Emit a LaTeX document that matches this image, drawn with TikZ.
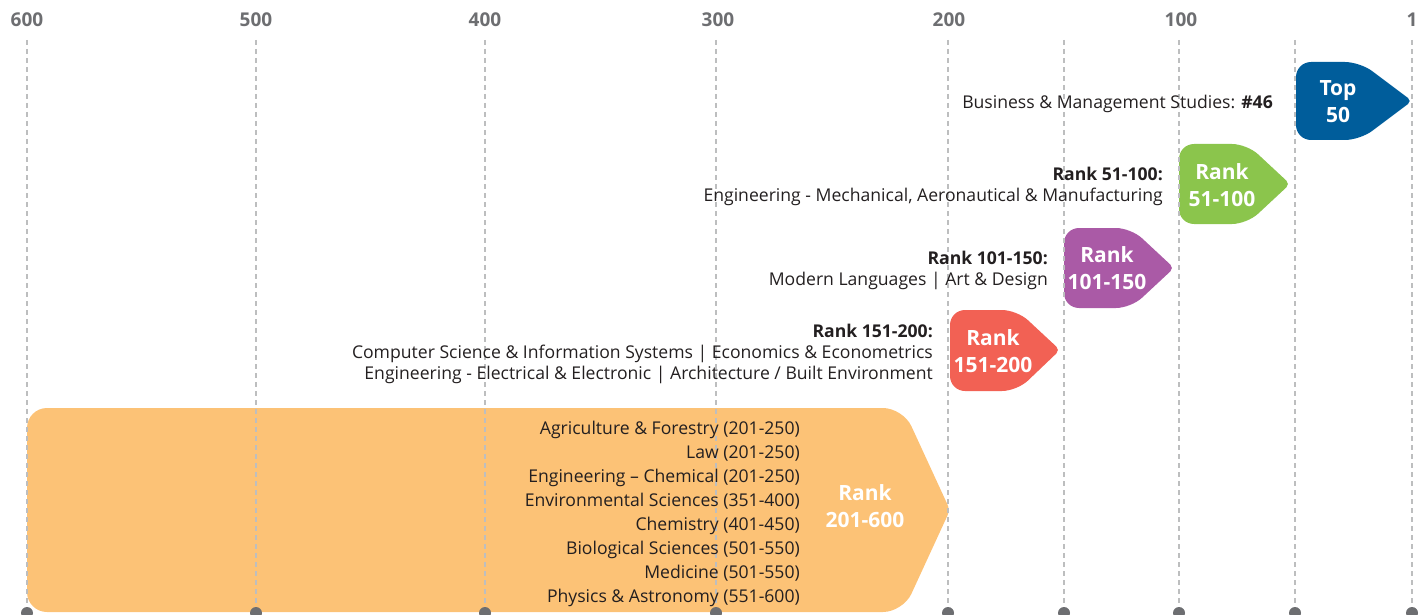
\documentclass[tikz,border=0pt]{standalone}
\usepackage{fontspec}
\setmainfont{Open Sans}
\usepackage{xcolor}
\usepackage{tikz}

\definecolor{topblue}{RGB}{0,93,155}
\definecolor{rankgreen}{RGB}{139,197,76}
\definecolor{rankpurple}{RGB}{170,90,166}
\definecolor{rankred}{RGB}{242,97,84}
\definecolor{rankorange}{RGB}{252,194,118}
\definecolor{axisgray}{RGB}{109,110,113}
\definecolor{textblack}{RGB}{35,31,32}

\begin{document}
\begin{tikzpicture}[x=1pt,y=-1pt,
  gridline/.style={axisgray!45,line width=1.4pt,dash pattern=on 5pt off 4pt},
  axislabel/.style={text=axisgray,font=\fontsize{19}{22}\selectfont\bfseries,inner sep=0pt},
  badge/.style={text=white,font=\fontsize{21}{27}\selectfont\bfseries,align=center,inner sep=0pt},
  subjects/.style={text=textblack,font=\fontsize{17.6}{21}\selectfont,align=right,anchor=east,inner sep=0pt}]
\useasboundingbox (0,0) rectangle (1421,615);

% ranking bands
\fill[rankorange, rounded corners=20] (27,510) |- (903,408) [rounded corners=6] -- (950,510) [rounded corners=20] -- (903,612) -- (27,612) -- cycle;
\fill[rankred, rounded corners=15] (950,350) |- (1017,310) [rounded corners=5] -- (1060,350) [rounded corners=15] -- (1017,391) -- (950,391) -- cycle;
\fill[rankpurple, rounded corners=15] (1064,268) |- (1131,228) [rounded corners=5] -- (1174,268) [rounded corners=15] -- (1131,308) -- (1064,308) -- cycle;
\fill[rankgreen, rounded corners=15] (1179,184) |- (1247,144) [rounded corners=5] -- (1290,184) [rounded corners=15] -- (1247,224) -- (1179,224) -- cycle;
\fill[topblue, rounded corners=15] (1296,101) |- (1360,62) [rounded corners=5] -- (1412,101) [rounded corners=15] -- (1360,140) -- (1296,140) -- cycle;

% grid
\draw[gridline] (27,40) -- (27,612);
\draw[gridline] (256,40) -- (256,612);
\draw[gridline] (485,40) -- (485,612);
\draw[gridline] (716,40) -- (716,612);
\draw[gridline] (948,40) -- (948,612);
\draw[gridline] (1064,40) -- (1064,612);
\draw[gridline] (1179,40) -- (1179,612);
\draw[gridline] (1295,40) -- (1295,612);
\draw[gridline] (1412,40) -- (1412,612);

\fill[axisgray] (27,613) circle (6);
\fill[axisgray] (256,613) circle (6);
\fill[axisgray] (485,613) circle (6);
\fill[axisgray] (716,613) circle (6);
\fill[axisgray] (948,613) circle (6);
\fill[axisgray] (1064,613) circle (6);
\fill[axisgray] (1179,613) circle (6);
\fill[axisgray] (1295,613) circle (6);
\fill[axisgray] (1412,613) circle (6);

% axis
\node[axislabel] (l600) at (27,20) {600};
\node[axislabel] (l500) at (256,20) {500};
\node[axislabel] (l400) at (485,20) {400};
\node[axislabel] (l300) at (718,20) {300};
\node[axislabel] (l200) at (949,20) {200};
\node[axislabel] (l100) at (1181,20) {100};
\node[axislabel] (l1) at (1412,20) {1};

% badges
\node[badge] (top) at (1338,101.5) {Top\\50};
\node[badge] (r51) at (1222,185.5) {Rank\\51-100};
\node[badge] (r101) at (1107,268.5) {Rank\\101-150};
\node[badge] (r151) at (993,351.5) {Rank\\151-200};
\node[badge] (r201) at (865,506.5) {Rank\\201-600};

% subjects
\node[subjects] (s46) at (1273,104) {Business \& Management Studies: \textbf{\#46}};
\node[subjects] (s51) at (1163,186) {\textbf{Rank 51-100:}\\Engineering - Mechanical, Aeronautical \& Manufacturing};
\node[subjects] (s101) at (1048,270) {\textbf{Rank 101-150:}\\Modern Languages | Art \& Design};
\node[subjects] (s151) at (933,354) {\textbf{Rank 151-200:}\\Computer Science \& Information Systems | Economics \& Econometrics\\Engineering - Electrical \& Electronic | Architecture / Built Environment};
\node[subjects,font=\fontsize{17.6}{23.9}\selectfont] (s201) at (800,514) {Agriculture \& Forestry (201-250)\\Law (201-250)\\Engineering -- Chemical (201-250)\\Environmental Sciences (351-400)\\Chemistry (401-450)\\Biological Sciences (501-550)\\Medicine (501-550)\\Physics \& Astronomy (551-600)};

\end{tikzpicture}
\end{document}
